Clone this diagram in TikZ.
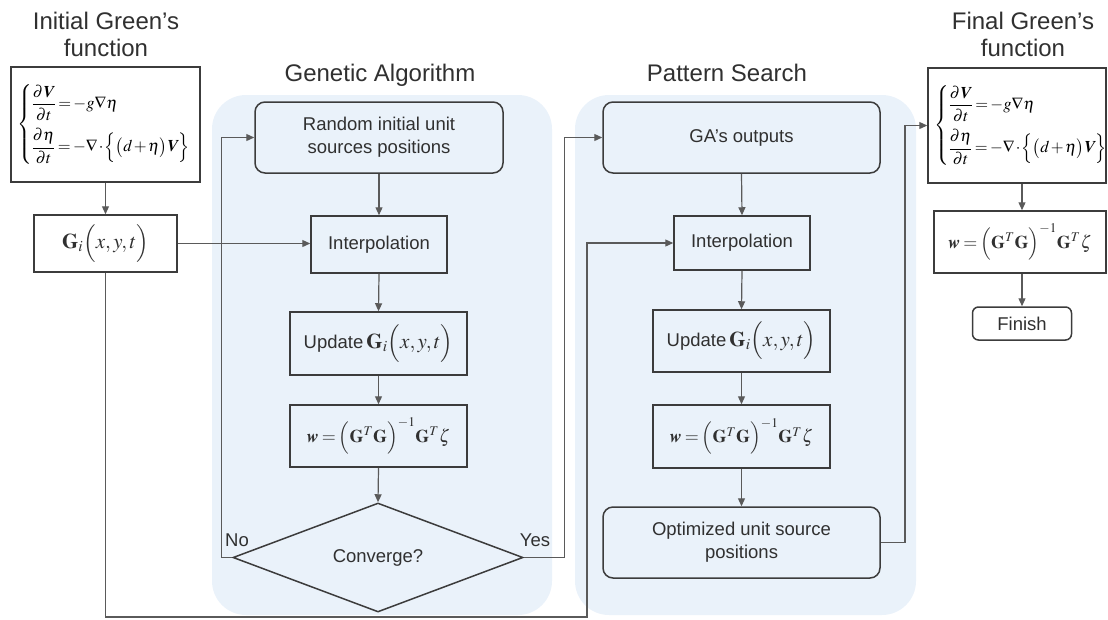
\documentclass[tikz,border=0pt]{standalone}
\usepackage{amsmath}
\usepackage{mathptmx}
\usepackage[no-math]{fontspec}
\setmainfont{Liberation Sans}
\DeclareMathAlphabet{\mathbfit}{OT1}{ptm}{b}{it}
\DeclareMathAlphabet{\mathbfup}{OT1}{ptm}{b}{n}
\usetikzlibrary{arrows.meta,shapes.geometric}

\definecolor{panelblue}{HTML}{EAF2FA}
\definecolor{edge}{HTML}{3C3C3C}
\definecolor{wire}{HTML}{5A5A5A}
\definecolor{ink}{HTML}{303030}

% shallow water system used for the Green's functions
\newcommand{\swe}{\medmuskip=1.5mu\thickmuskip=2.5mu$\left\{\begin{aligned}
  &\frac{\partial \mathbfit{V}}{\partial t}=-g\nabla\eta\\[4pt]
  &\frac{\partial\eta}{\partial t}=-\nabla\cdot\Bigl\{\bigl(d+\eta\bigr)\mathbfit{V}\Bigr\}
\end{aligned}\right.$}
\newcommand{\gfun}{$\mathbfup{G}_{i}\Bigl(x,y,t\Bigr)$}
\newcommand{\weights}{\thickmuskip=3mu$\mathbfit{w}=\Bigl(\mathbfup{G}^{T}\mathbfup{G}\Bigr)^{-1}\mathbfup{G}^{T}\zeta$}

\begin{document}
\begin{tikzpicture}[x=1pt,y=-1pt,
  title/.style={font=\fontsize{24}{27}\selectfont, text=ink, align=center, inner sep=0pt},
  lbl/.style={font=\fontsize{18.5}{23}\selectfont, text=ink, align=center},
  box/.style={draw=edge, line width=1.5pt, lbl, inner sep=0pt},
  rbox/.style={box, rounded corners=10pt},
  eqbox/.style={draw=edge, line width=1.5pt, fill=white, text=black, align=left,
    inner xsep=6pt, inner ysep=0pt, font=\fontsize{16.5}{20}\selectfont},
  decision/.style={diamond, draw=edge, line width=1.5pt, lbl, inner sep=0pt},
  arr/.style={draw=wire, line width=1.2pt, -{Triangle[length=8pt,width=7pt]}},
  wire/.style={draw=wire, line width=1.2pt}
]
\useasboundingbox (0,0) rectangle (1108,619);

% shaded stage panels
\fill[panelblue, rounded corners=34pt] (212,95) rectangle (552,615);
\fill[panelblue, rounded corners=34pt] (575,95) rectangle (916,615);

% titles
\node[title] (tInit) at (106,34) {Initial Green’s\\function};
\node[title] (tFinal) at (1023,34) {Final Green’s\\function};
\node[title, anchor=base] (tGA) at (380,81) {Genetic Algorithm};
\node[title, anchor=base] (tPS) at (727,81) {Pattern Search};

% initial Green's function
\node[eqbox, minimum width=189pt, minimum height=115pt, text width=177pt] (eqL) at (105.5,124.5) {\swe};
\node[box, minimum width=143pt, minimum height=57pt, font=\fontsize{21}{24}\selectfont] (gi) at (105.5,243.5) {\gfun};

% genetic algorithm stage
\node[rbox, minimum width=248pt, minimum height=71pt] (rand) at (379,137.5) {Random initial unit\\sources positions};
\node[box, minimum width=136pt, minimum height=57pt] (ipGA) at (379,244.5) {Interpolation};
\node[box, minimum width=177pt, minimum height=63pt] (upGA) at (378.5,343.5) {Update\,{\fontsize{21}{24}\selectfont\gfun}};
\node[box, minimum width=177pt, minimum height=62pt, font=\fontsize{18}{20}\selectfont] (wGA) at (378.5,436) {\weights};
\node[decision, minimum width=290pt, minimum height=109pt] (conv) at (378,557.5) {Converge?};
\node[lbl, inner sep=0pt] (no) at (237,540) {No};
\node[lbl, inner sep=0pt] (yes) at (535,540) {Yes};

% pattern search stage
\node[rbox, minimum width=277pt, minimum height=71pt] (gaout) at (741.5,137.5) {GA’s outputs};
\node[box, minimum width=136pt, minimum height=54pt] (ipPS) at (742,243) {Interpolation};
\node[box, minimum width=177pt, minimum height=62pt] (upPS) at (741.5,341) {Update\,{\fontsize{21}{24}\selectfont\gfun}};
\node[box, minimum width=177pt, minimum height=63pt, font=\fontsize{18}{20}\selectfont] (wPS) at (741.5,436.5) {\weights};
\node[rbox, minimum width=277pt, minimum height=71pt] (opt) at (741.5,542.5) {Optimized unit source\\positions};

% final Green's function
\node[eqbox, minimum width=178pt, minimum height=115pt, text width=166pt] (eqR) at (1017,125.5) {\swe};
\node[box, minimum width=172pt, minimum height=62pt, fill=white, font=\fontsize{18}{20}\selectfont] (wR) at (1020,242) {\weights};
\node[rbox, rounded corners=6pt, minimum width=99pt, minimum height=33pt] (fin) at (1022,323.5) {Finish};

% routing points
\coordinate (bus) at (587,617);
\coordinate (outR) at (905,543);

% connectors
\draw[arr] (eqL.south) -- (gi.north);
\draw[arr] (gi.east) -- (gi.east -| ipGA.west);
\draw[arr] (gi.south) |- (bus) |- (ipPS.west);

\draw[arr] (rand.south) -- (ipGA.north);
\draw[arr] (ipGA.south) -- (upGA.north);
\draw[arr] (upGA.south) -- (wGA.north);
\draw[arr] (wGA.south) -- (conv.north);
\draw[arr] (conv.west) -- ([xshift=-11pt]conv.west) |- (rand.west);
\draw[arr] (conv.east) -- ([xshift=41pt]conv.east) |- (gaout.west);

\draw[arr] (gaout.south) -- (ipPS.north);
\draw[arr] (ipPS.south) -- (upPS.north);
\draw[arr] (upPS.south) -- (wPS.north);
\draw[arr] (wPS.south) -- (opt.north);
\draw[arr] (opt.east) -- (opt.east -| outR) |- (eqR.west);

\draw[arr] (eqR.south -| fin.north) -- (wR.north -| fin.north);
\draw[arr] (wR.south -| fin.north) -- (fin.north);
\end{tikzpicture}
\end{document}
